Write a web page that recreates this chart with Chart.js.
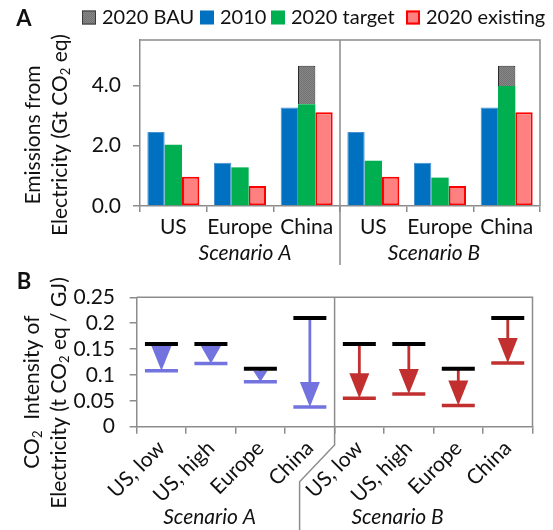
<!DOCTYPE html>
<html><head><meta charset="utf-8">
<script src="https://cdn.jsdelivr.net/npm/chart.js@4/dist/chart.umd.min.js"></script>
<style>
html,body{margin:0;padding:0;background:#fff;}
#wrap{position:relative;width:553px;height:530px;overflow:hidden;background:#fff;}
canvas{position:absolute;left:0;}
#cA{top:0;}
#cB{top:270px;}
</style></head><body>
<div id="wrap"><canvas id="cA" width="553" height="270"></canvas><canvas id="cB" width="553" height="260"></canvas></div>
<script>
// ---------------- data ----------------
const regionsA = ['US', 'Europe', 'China', 'US', 'Europe', 'China'];
const scenarioLabels = ['Scenario A', 'Scenario B'];
const seriesNamesA = ['2020 BAU', '2010', '2020 target', '2020 existing'];
const em2010 = [2.45, 1.43, 3.26, 2.45, 1.43, 3.26];
const em2020Target = [2.03, 1.28, 3.37, 1.50, 0.94, 3.98];
const em2020Existing = [0.97, 0.66, 3.11, 0.97, 0.66, 3.11];
const em2020BAU = [null, null, 4.65, null, null, 4.65];
const yTickValuesA = [0, 2, 4];
const yTickLabelsA = ['0.0', '2.0', '4.0'];

const categoriesB = ['US, low', 'US, high', 'Europe', 'China', 'US, low', 'US, high', 'Europe', 'China'];
const int2010 = [0.16, 0.16, 0.112, 0.21, 0.16, 0.16, 0.112, 0.21];
const intTarget = [0.108, 0.122, 0.087, 0.038, 0.055, 0.063, 0.041, 0.123];
const yTickValuesB = [0, 0.05, 0.1, 0.15, 0.2, 0.25];
const yTickLabelsB = ['0', '0.05', '0.1', '0.15', '0.2', '0.25'];

// ---------------- style ----------------
const FONT = 'Lato, "Open Sans", "DejaVu Sans", sans-serif';
const FS = 21;
const LEG_FS = 20;
const TXT = '#111111';
const AXIS = '#8c8c8c';
const BLUE_A = '#7373DF';
const RED_B = '#C12F2F';
Chart.defaults.font.family = FONT;
Chart.defaults.color = TXT;

function greyPattern() {
  const c = document.createElement('canvas'); c.width = 2; c.height = 2;
  const g = c.getContext('2d');
  g.fillStyle = '#878787'; g.fillRect(0, 0, 2, 2);
  g.fillStyle = '#727272'; g.fillRect(0, 0, 1, 1); g.fillRect(1, 1, 1, 1);
  return g.createPattern(c, 'repeat');
}
const GREY = greyPattern();

const legendStyles = {
  '2020 BAU': {fill: GREY, stroke: '#3a3a3a', lw: 1},
  '2010': {fill: '#0070C0', stroke: null, lw: 0},
  '2020 target': {fill: '#00B050', stroke: null, lw: 0},
  '2020 existing': {fill: '#FF8080', stroke: '#FF0000', lw: 2}
};
const legendBoxX = [82, 200, 271, 406];

function drawRich(ctx, segs, cx, cy, size) {
  let total = 0;
  const ws = segs.map(s => {
    ctx.font = (s.sub ? Math.round(size * 0.6) : size) + 'px ' + FONT;
    const w = ctx.measureText(s.t).width; total += w; return w;
  });
  let x = cx - total / 2;
  ctx.textAlign = 'left'; ctx.textBaseline = 'middle';
  segs.forEach((s, i) => {
    ctx.font = (s.sub ? Math.round(size * 0.6) : size) + 'px ' + FONT;
    ctx.fillText(s.t, x, cy + (s.sub ? size * 0.3 : 0));
    x += ws[i];
  });
}
function drawVertTitle(ctx, segs, cx, cy, size) {
  ctx.save(); ctx.translate(cx, cy); ctx.rotate(-Math.PI / 2);
  drawRich(ctx, segs, 0, 0, size); ctx.restore();
}

// ---------------- chart A ----------------
const decoA = {
  id: 'decoA',
  afterDraw(chart) {
    const {ctx, chartArea: ca, scales: {x}} = chart;
    ctx.save();
    ctx.strokeStyle = AXIS; ctx.lineWidth = 1.5;
    ctx.beginPath();
    ctx.moveTo(ca.left, ca.top); ctx.lineTo(ca.right, ca.top); ctx.lineTo(ca.right, ca.bottom);
    const bx = (x.getPixelForValue(2) + x.getPixelForValue(3)) / 2;
    ctx.moveTo(bx, ca.top); ctx.lineTo(bx, 265);
    ctx.stroke();
    ctx.fillStyle = TXT; ctx.textAlign = 'center'; ctx.textBaseline = 'middle';
    ctx.font = 'italic ' + FS + 'px ' + FONT;
    const gA = (x.getPixelForValue(0) + x.getPixelForValue(2)) / 2;
    const gB = (x.getPixelForValue(3) + x.getPixelForValue(5)) / 2;
    ctx.fillText(scenarioLabels[0], gA + 5, 253.5);
    ctx.fillText(scenarioLabels[1], gB - 6, 253.5);
    ctx.font = 'bold 22px ' + FONT; ctx.textAlign = 'center';
    ctx.fillText('A', 24, 19);
    drawVertTitle(ctx, [{t: 'Emissions from'}], 33, 135, FS);
    drawVertTitle(ctx, [{t: 'Electricity (Gt CO'}, {t: '2', sub: true}, {t: ' eq)'}], 60, 135, FS);
    ctx.textBaseline = 'middle'; ctx.textAlign = 'left';
    seriesNamesA.forEach((name, k) => {
      const st = legendStyles[name];
      const lx = legendBoxX[k];
      ctx.fillStyle = st.fill; ctx.fillRect(lx, 10.5, 14, 14);
      if (st.stroke) { ctx.strokeStyle = st.stroke; ctx.lineWidth = st.lw; ctx.strokeRect(lx + st.lw / 2, 10.5 + st.lw / 2, 14 - st.lw, 14 - st.lw); }
      ctx.fillStyle = TXT; ctx.font = LEG_FS + 'px ' + FONT;
      ctx.fillText(name, lx + 20, 18);
    });
    ctx.restore();
  }
};

new Chart(document.getElementById('cA'), {
  type: 'bar',
  data: {
    labels: regionsA,
    datasets: [
      {label: '2010', data: em2010, backgroundColor: '#0070C0', borderColor: '#4A90D0', borderWidth: 1, stack: 's1'},
      {label: '2020 target', data: em2020Target, backgroundColor: '#00B050', borderWidth: 0, stack: 's2'},
      {label: '2020 BAU', data: em2020BAU.map((v, i) => v == null ? null : +(v - em2020Target[i]).toFixed(3)),
        backgroundColor: GREY, borderColor: '#2a2a2a', borderWidth: 1, borderSkipped: 'bottom', stack: 's2'},
      {label: '2020 existing', data: em2020Existing, backgroundColor: '#FF8080', borderColor: '#FF0000', borderWidth: 2, borderSkipped: false, stack: 's3'}
    ]
  },
  options: {
    responsive: false, animation: false,
    categoryPercentage: 0.78, barPercentage: 1.0,
    layout: {padding: {left: 0, right: 13, top: 40, bottom: 0}},
    plugins: {legend: {display: false}, tooltip: {enabled: false}},
    scales: {
      x: {
        grid: {offset: true, drawOnChartArea: false, tickLength: 6, color: AXIS, lineWidth: 1.5},
        border: {color: AXIS, width: 1.5},
        ticks: {color: TXT, font: {size: FS}, padding: 3, maxRotation: 0, autoSkip: false},
        afterFit: s => { s.height = 64; }
      },
      y: {
        stacked: true, min: 0, max: 5.5,
        grid: {drawOnChartArea: false, tickLength: 7, color: AXIS, lineWidth: 1.5},
        border: {color: AXIS, width: 1.5},
        afterBuildTicks: s => { s.ticks = yTickValuesA.map(v => ({value: v})); },
        ticks: {color: TXT, font: {size: FS}, padding: 12, autoSkip: false, callback: v => yTickLabelsA[yTickValuesA.indexOf(v)]},
        afterFit: s => { s.width = 140; }
      }
    }
  },
  plugins: [decoA]
});

// ---------------- chart B ----------------
const arrowsB = {
  id: 'arrowsB',
  beforeDatasetsDraw(chart) {
    const {ctx, scales: {x, y}} = chart;
    ctx.save();
    int2010.forEach((v, i) => {
      const col = i < 4 ? BLUE_A : RED_B;
      const px = x.getPixelForValue(i);
      const y0 = y.getPixelForValue(v);
      const y1 = y.getPixelForValue(intTarget[i]);
      const len = y1 - y0;
      const head = Math.min(25, len - 2);
      const hw = Math.min(10, head * 0.65);
      ctx.fillStyle = col; ctx.strokeStyle = col;
      ctx.lineWidth = 2.8;
      ctx.beginPath(); ctx.moveTo(px, y0); ctx.lineTo(px, y1 - head + 1); ctx.stroke();
      ctx.beginPath();
      ctx.moveTo(px - hw, y1 - head); ctx.lineTo(px + hw, y1 - head); ctx.lineTo(px, y1); ctx.closePath();
      ctx.fill();
    });
    ctx.restore();
  },
  afterDraw(chart) {
    const {ctx, chartArea: ca, scales: {x}} = chart;
    ctx.save();
    ctx.strokeStyle = AXIS; ctx.lineWidth = 1.5;
    ctx.beginPath();
    ctx.moveTo(ca.left, ca.top); ctx.lineTo(ca.right, ca.top); ctx.lineTo(ca.right, ca.bottom);
    const bx = (x.getPixelForValue(3) + x.getPixelForValue(4)) / 2;
    ctx.moveTo(bx, ca.top); ctx.lineTo(bx, 175); ctx.lineTo(bx - 35, 211.7); ctx.lineTo(bx - 35, 262);
    ctx.stroke();
    ctx.fillStyle = TXT; ctx.textAlign = 'center'; ctx.textBaseline = 'middle';
    ctx.font = 'italic ' + FS + 'px ' + FONT;
    const gA = (x.getPixelForValue(0) + x.getPixelForValue(3)) / 2;
    const gB = (x.getPixelForValue(4) + x.getPixelForValue(7)) / 2;
    ctx.fillText(scenarioLabels[0], gA - 26, 247.5);
    ctx.fillText(scenarioLabels[1], gB - 36, 247.5);
    ctx.font = 'bold 22px ' + FONT;
    ctx.fillText('B', 24, 12);
    drawVertTitle(ctx, [{t: 'CO'}, {t: '2', sub: true}, {t: '  Intensity of'}], 32, 122, FS);
    drawVertTitle(ctx, [{t: 'Electricity (t CO'}, {t: '2', sub: true}, {t: ' eq / GJ)'}], 59, 123, FS);
    ctx.restore();
  }
};

new Chart(document.getElementById('cB'), {
  type: 'line',
  data: {
    labels: categoriesB,
    datasets: [
      {label: '2010', data: int2010, showLine: false, pointStyle: 'line', pointRadius: 16.5, pointHoverRadius: 16.5,
        pointBorderWidth: 4, pointBorderColor: '#000', borderColor: '#000', backgroundColor: '#000'},
      {label: 'target', data: intTarget, showLine: false, pointStyle: 'line', pointRadius: 16.5, pointHoverRadius: 16.5,
        pointBorderWidth: 3.5, pointBorderColor: categoriesB.map((c, i) => i < 4 ? BLUE_A : RED_B),
        borderColor: RED_B, backgroundColor: RED_B}
    ]
  },
  options: {
    responsive: false, animation: false,
    layout: {padding: {left: 0, right: 16.3, top: 13.3, bottom: 0}},
    plugins: {legend: {display: false}, tooltip: {enabled: false}},
    scales: {
      x: {
        offset: true,
        grid: {offset: true, drawOnChartArea: false, tickLength: 7, color: AXIS, lineWidth: 1.5},
        border: {color: AXIS, width: 1.5},
        ticks: {color: TXT, font: {size: FS}, padding: 2, minRotation: 45, maxRotation: 45, autoSkip: false},
        afterFit: s => { s.height = 103.3; }
      },
      y: {
        min: 0, max: 0.25,
        grid: {drawOnChartArea: false, tickLength: 7, color: AXIS, lineWidth: 1.5},
        border: {color: AXIS, width: 1.5},
        afterBuildTicks: s => { s.ticks = yTickValuesB.map(v => ({value: v})); },
        ticks: {color: TXT, font: {size: FS}, padding: 14.7, autoSkip: false, callback: v => yTickLabelsB[yTickValuesB.indexOf(v)]},
        afterFit: s => { s.width = 136.7; }
      }
    }
  },
  plugins: [arrowsB]
});
</script>
</body></html>
